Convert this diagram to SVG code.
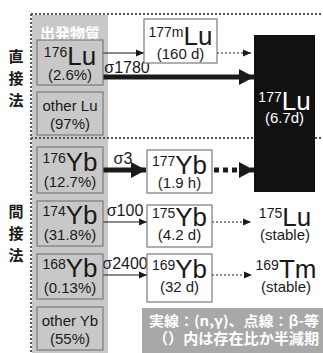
<svg xmlns="http://www.w3.org/2000/svg" width="323" height="353" viewBox="0 0 323 353">
<defs>
<style>
text{font-family:"Liberation Sans",Arial,sans-serif;fill:#1a1a1a;text-anchor:middle}
.jp{font-family:"Noto Sans CJK JP","Noto Sans",sans-serif;font-weight:bold}
.box{fill:#c8c8c8;stroke:#7a7a7a;stroke-width:1.2}
.wbox{fill:#fff;stroke:#7a7a7a;stroke-width:1.2}
.sup{font-size:14px}
.big{font-size:26px}
.sub{font-size:15px}
.sig{font-size:16px}
.thin{stroke:#1a1a1a;stroke-width:1.2;fill:none}
.dot{stroke:#1a1a1a;stroke-width:1;stroke-dasharray:2 2;fill:none}
.thick{stroke:#1a1a1a;stroke-width:5;fill:none}
.thickdot{stroke:#1a1a1a;stroke-width:5;stroke-dasharray:5 4;fill:none}
.frame{stroke:#555;stroke-width:2;stroke-dasharray:2 2;fill:none}
</style>
<marker id="ah" markerUnits="userSpaceOnUse" markerWidth="8" markerHeight="8" refX="8" refY="4" orient="auto"><path d="M0,0.5 L8,4 L0,7.5 Z" fill="#1a1a1a"/></marker>
<marker id="ahb" markerUnits="userSpaceOnUse" markerWidth="16" markerHeight="16" refX="15" refY="8" orient="auto"><path d="M0,0 L15,8 L0,16 Z" fill="#1a1a1a"/></marker>
</defs>
<rect width="323" height="353" fill="#fff"/>
<g id="start-column">
<rect x="32" y="15" width="76" height="338" fill="#c8c8c8"/>
<text class="jp" x="70" y="39" style="fill:#fff;font-size:15px">出発物質</text>
</g>
<g id="frame">
<path class="frame" d="M31,14 H323 M31,14 V353 M31,138 H323"/>
</g>
<g id="section-labels">
<text class="jp" x="16" y="62" style="font-size:15px">直</text>
<text class="jp" x="16" y="84" style="font-size:15px">接</text>
<text class="jp" x="16" y="106" style="font-size:15px">法</text>
<text class="jp" x="16" y="217" style="font-size:15px">間</text>
<text class="jp" x="16" y="239" style="font-size:15px">接</text>
<text class="jp" x="16" y="261" style="font-size:15px">法</text>
</g>
<g id="connectors">
<line class="thin" x1="103" y1="53" x2="144" y2="53" marker-end="url(#ah)"/>
<line class="dot" x1="217" y1="53" x2="251" y2="53" marker-end="url(#ah)"/>
<line class="thick" x1="103" y1="77" x2="254" y2="77" marker-end="url(#ahb)"/>
<line class="thick" x1="103" y1="170" x2="146" y2="170" marker-end="url(#ahb)"/>
<line class="thickdot" x1="214" y1="170" x2="254" y2="170" marker-end="url(#ahb)"/>
<line class="thin" x1="103" y1="222" x2="147" y2="222" marker-end="url(#ah)"/>
<line class="dot" x1="212" y1="222" x2="251" y2="222" marker-end="url(#ah)"/>
<line class="thin" x1="103" y1="275" x2="147" y2="275" marker-end="url(#ah)"/>
<line class="dot" x1="212" y1="275" x2="252" y2="275" marker-end="url(#ah)"/>
<text class="sig" x="127" y="73">σ1780</text>
<text class="sig" x="123" y="164">σ3</text>
<text class="sig" x="125" y="216">σ100</text>
<text class="sig" x="125" y="269">σ2400</text>
</g>
<g id="lu176">
<rect class="box" x="37" y="40" width="66" height="45"/>
<text x="70" y="65"><tspan class="sup" dy="-8">176</tspan><tspan class="big" dy="8">Lu</tspan></text>
<text class="sub" x="70" y="80">(2.6%)</text>
</g>
<g id="otherlu">
<rect class="box" x="37" y="92" width="66" height="43"/>
<text class="sub" x="70" y="111">other Lu</text>
<text class="sub" x="70" y="129">(97%)</text>
</g>
<g id="lu177m">
<rect class="wbox" x="144" y="19" width="73" height="44"/>
<text x="180.5" y="45"><tspan class="sup" dy="-8">177m</tspan><tspan class="big" dy="8">Lu</tspan></text>
<text class="sub" x="180.5" y="59">(160 d)</text>
</g>
<g id="lu177">
<rect x="254" y="35" width="61" height="157" fill="#111"/>
<text x="284.5" y="110" style="fill:#fff"><tspan class="sup" dy="-8">177</tspan><tspan class="big" dy="8">Lu</tspan></text>
<text class="sub" x="284.5" y="123" style="fill:#fff">(6.7d)</text>
</g>
<g id="yb176">
<rect class="box" x="37" y="147" width="66" height="46"/>
<text x="70" y="171"><tspan class="sup" dy="-8">176</tspan><tspan class="big" dy="8">Yb</tspan></text>
<text class="sub" x="70" y="187">(12.7%)</text>
</g>
<g id="yb174">
<rect class="box" x="37" y="201" width="66" height="45"/>
<text x="70" y="224"><tspan class="sup" dy="-8">174</tspan><tspan class="big" dy="8">Yb</tspan></text>
<text class="sub" x="70" y="240">(31.8%)</text>
</g>
<g id="yb168">
<rect class="box" x="37" y="254" width="66" height="45"/>
<text x="70" y="277"><tspan class="sup" dy="-8">168</tspan><tspan class="big" dy="8">Yb</tspan></text>
<text class="sub" x="70" y="293">(0.13%)</text>
</g>
<g id="otheryb">
<rect class="box" x="37" y="307" width="66" height="43"/>
<text class="sub" x="70" y="326">other Yb</text>
<text class="sub" x="70" y="344">(55%)</text>
</g>
<g id="yb177">
<rect class="wbox" x="147" y="150" width="65" height="43"/>
<text x="179.5" y="174"><tspan class="sup" dy="-8">177</tspan><tspan class="big" dy="8">Yb</tspan></text>
<text class="sub" x="179.5" y="188">(1.9 h)</text>
</g>
<g id="yb175">
<rect class="wbox" x="147" y="205" width="65" height="42"/>
<text x="179.5" y="226"><tspan class="sup" dy="-8">175</tspan><tspan class="big" dy="8">Yb</tspan></text>
<text class="sub" x="179.5" y="240">(4.2 d)</text>
</g>
<g id="lu175">
<text x="285" y="226"><tspan class="sup" dy="-8">175</tspan><tspan class="big" dy="8">Lu</tspan></text>
<text class="sub" x="285" y="240">(stable)</text>
</g>
<g id="yb169">
<rect class="wbox" x="147" y="254" width="65" height="48"/>
<text x="179.5" y="278"><tspan class="sup" dy="-8">169</tspan><tspan class="big" dy="8">Yb</tspan></text>
<text class="sub" x="179.5" y="292">(32 d)</text>
</g>
<g id="tm169">
<text x="286" y="278"><tspan class="sup" dy="-8">169</tspan><tspan class="big" dy="8">Tm</tspan></text>
<text class="sub" x="286" y="292">(stable)</text>
</g>
<g id="legend">
<rect x="142" y="308" width="181" height="45" fill="#a8a8a8"/>
<text class="jp" x="234" y="326" style="fill:#fff;font-size:14px" textLength="170" lengthAdjust="spacingAndGlyphs">実線：(n,γ)、点線：β-等</text>
<text class="jp" x="236" y="344" style="fill:#fff;font-size:15px" textLength="166" lengthAdjust="spacingAndGlyphs">（）内は存在比か半減期</text>
</g>
</svg>
